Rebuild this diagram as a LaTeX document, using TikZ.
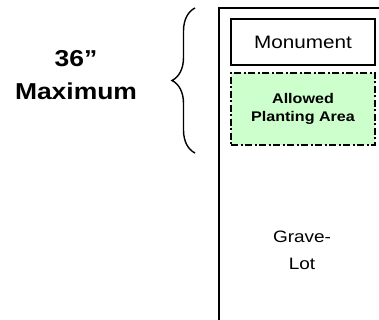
\documentclass[tikz,border=0pt]{standalone}
\usepackage{fontspec}
\setmainfont{Liberation Sans}[FakeStretch=1.15]
\usetikzlibrary{decorations.pathreplacing}
\definecolor{plantgreen}{HTML}{CCFFCC}

\begin{document}
\begin{tikzpicture}[x=1pt,y=-1pt]
        \tikzset{
            lotbox/.style={draw, rectangle, line width=1.4pt, minimum width=144pt, inner sep=0pt},
            dashdot/.style={dash pattern=on 7pt off 2.5pt on 2pt off 2.5pt},
        }
        \clip (0,0) rectangle (379,320);

        % grave-lot outline
        \coordinate (lotbottom) at (219,330);
        \coordinate (lotcorner) at (219,8);
        \coordinate (lotright) at (390,8);
        \draw[line width=1.4pt] (lotbottom) -- (lotcorner) -- (lotright);

        % monument
        \node[lotbox, minimum height=46pt] (monument) at (303,42) {\fontsize{18}{20}\selectfont Monument};

        % planting area
        \node[lotbox, minimum height=72pt, fill=plantgreen, dashdot, line width=1.5pt, align=center,
              font=\bfseries\fontsize{14}{17.5}\selectfont] (planting) at (303,109) {Allowed\\Planting Area};

        % grave-lot
        \node[align=center, font=\fontsize{16.5}{27}\selectfont] (gravelot) at (302,250) {Grave-\\Lot};

        % brace
        \coordinate (bracetop) at (195,8);
        \coordinate (bracebottom) at (195,153);
        \draw[line width=1.4pt, decorate, decoration={brace, amplitude=23pt}] (bracebottom) -- (bracetop);

        % limit
        \node[align=center, font=\bfseries\fontsize{23}{33}\selectfont] (limit) at (76,75) {36”\\Maximum};
\end{tikzpicture}
\end{document}
